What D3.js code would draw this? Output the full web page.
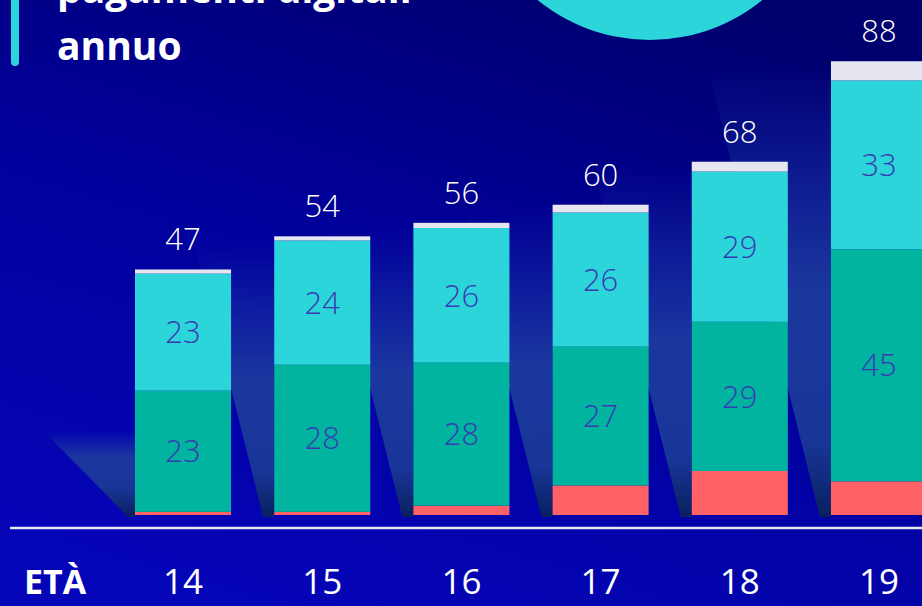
<!DOCTYPE html>
<html>
<head>
<meta charset="utf-8">
<script src="https://cdn.jsdelivr.net/npm/d3@7"></script>
<style>
    body { margin: 0; padding: 0; background: #00008a; overflow: hidden; }
    text { font-family: "Open Sans", "Noto Sans", sans-serif; }
    .num { font-weight: 300; }
</style>
</head>
<body>
<div id="chart"></div>
<script>

// eta' (x categories)
const ages = ["14", "15", "16", "17", "18", "19"];

// segment values per age, bottom to top
const red_values = [0.6, 0.6, 1.8, 5.7, 8.5, 6.5];
const teal_values = [23.4, 28.4, 27.6, 26.8, 28.8, 44.8];
const cyan_values = [22.6, 24.0, 26.0, 25.9, 29.0, 32.6];
const white_values = [0.8, 0.8, 1.0, 1.5, 1.9, 3.7];

const title_lines = ["pagamenti digitali", "annuo"];
const axis_title = "ETÀ";

document.addEventListener("DOMContentLoaded", function () {
    drawChart();
});

function addBeamGradient(defs, id, fullAt, fullTo) {
    let g = defs.append("linearGradient")
        .attr("id", id)
        .attr("x1", 0).attr("y1", 0)
        .attr("x2", 0).attr("y2", 1);
    g.append("stop").attr("offset", 0).attr("stop-color", "#1c3a9e").attr("stop-opacity", 0);
    g.append("stop").attr("offset", fullAt).attr("stop-color", "#1c3a9e").attr("stop-opacity", 0.95);
    g.append("stop").attr("offset", fullTo).attr("stop-color", "#1a3898").attr("stop-opacity", 0.95);
    g.append("stop").attr("offset", 1).attr("stop-color", "#08205e").attr("stop-opacity", 1);
}

function drawChart() {

    const width = 922,
        height = 606,
        baseline = 515;

    const keys = ["red", "teal", "cyan", "white"];
    const colors = {
        red: "#ff6166",
        teal: "#00b4a0",
        cyan: "#2bd5d9",
        white: "#e6e6f0"
    };

    const table = ages.map(function (a, i) {
        return {
            age: a,
            red: red_values[i],
            teal: teal_values[i],
            cyan: cyan_values[i],
            white: white_values[i]
        };
    });

    let svg = d3
        .select("#chart")
        .append("svg")
        .attr("width", width)
        .attr("height", height);

    let defs = svg.append("defs");

    let bg = defs.append("linearGradient")
        .attr("id", "bg")
        .attr("x1", "0.75").attr("y1", "0")
        .attr("x2", "0.3").attr("y2", "1");
    bg.append("stop").attr("offset", "0").attr("stop-color", "#00006e");
    bg.append("stop").attr("offset", "0.45").attr("stop-color", "#00009a");
    bg.append("stop").attr("offset", "1").attr("stop-color", "#0505b8");

    addBeamGradient(defs, "beam", 0.5, 0.83);
    addBeamGradient(defs, "beam0", 0.3, 0.65);

    svg.append("rect")
        .attr("width", width)
        .attr("height", height)
        .attr("fill", "url(#bg)");

    // decorative circle and title
    svg.append("circle")
        .attr("cx", 650)
        .attr("cy", -138)
        .attr("r", 178)
        .attr("fill", "#2bd5d9");

    svg.append("rect")
        .attr("x", 11)
        .attr("y", -10)
        .attr("width", 8)
        .attr("height", 76)
        .attr("rx", 4)
        .attr("fill", "#2bd5d9");

    svg.selectAll(".title")
        .data(title_lines)
        .enter()
        .append("text")
        .attr("class", "title")
        .attr("x", 57)
        .attr("y", function (d, i) { return 3 + i * 57; })
        .attr("fill", "#ffffff")
        .style("font-size", "39px")
        .style("font-weight", "700")
        .text(function (d) { return d; });

    let xScale = d3
        .scaleBand()
        .domain(ages)
        .range([135, 927])
        .paddingInner(0.31)
        .paddingOuter(0);

    let yScale = d3
        .scaleLinear()
        .domain([0, 88])
        .range([baseline, baseline - 88 * 5.18]);

    const stacked = d3.stack().keys(keys)(table);
    const totals = table.map(function (d) {
        return keys.reduce(function (s, k) { return s + d[k]; }, 0);
    });

    // light beams behind each bar
    svg.selectAll(".beam")
        .data(table)
        .enter()
        .append("polygon")
        .attr("class", "beam")
        .attr("fill", function (d, i) { return i == 0 ? "url(#beam0)" : "url(#beam)"; })
        .attr("points", function (d, i) {
            let x0 = xScale(d.age);
            let bottom = baseline + 2;
            let top, slope, off;
            if (i == 0) {
                top = baseline - 84;
                slope = 0.98;
                off = 7;
            } else {
                top = yScale(totals[i]) + 6;
                slope = 0.25;
                off = 11;
            }
            let xl = x0 - off - slope * (bottom - top);
            return [[x0, top], [x0, bottom], [x0 - off, bottom], [xl, top]]
                .map(function (p) { return p.join(","); }).join(" ");
        });

    // stacked bars
    svg.selectAll(".layer")
        .data(stacked)
        .enter()
        .append("g")
        .attr("class", "layer")
        .attr("fill", function (d) { return colors[d.key]; })
        .selectAll("rect")
        .data(function (d) { return d; })
        .enter()
        .append("rect")
        .attr("x", function (d) { return xScale(d.data.age); })
        .attr("y", function (d) { return yScale(d[1]); })
        .attr("width", xScale.bandwidth())
        .attr("height", function (d) { return yScale(d[0]) - yScale(d[1]); });

    // values inside teal and cyan segments
    svg.selectAll(".seg-label")
        .data(stacked.filter(function (s) { return s.key == "teal" || s.key == "cyan"; }))
        .enter()
        .append("g")
        .selectAll("text")
        .data(function (d) { return d; })
        .enter()
        .append("text")
        .attr("class", "num")
        .attr("x", function (d) { return xScale(d.data.age) + xScale.bandwidth() / 2; })
        .attr("y", function (d) { return (yScale(d[0]) + yScale(d[1])) / 2; })
        .attr("dy", "0.36em")
        .attr("text-anchor", "middle")
        .attr("fill", "#3a3ab4")
        .style("font-size", "31px")
        .text(function (d) { return Math.round(d[1] - d[0]); });

    // totals above bars
    svg.selectAll(".total")
        .data(table)
        .enter()
        .append("text")
        .attr("class", "total num")
        .attr("x", function (d) { return xScale(d.age) + xScale.bandwidth() / 2; })
        .attr("y", function (d, i) { return yScale(totals[i]) - 19; })
        .attr("text-anchor", "middle")
        .attr("fill", "#ffffff")
        .style("font-size", "31px")
        .text(function (d, i) { return Math.round(totals[i]); });

    // baseline
    svg.append("line")
        .attr("x1", 10)
        .attr("x2", width)
        .attr("y1", 528)
        .attr("y2", 528)
        .attr("stroke", "#e8e8f4")
        .attr("stroke-width", 2.5);

    // x axis labels
    let xAxis = svg.append("g")
        .attr("transform", "translate(0,594)")
        .call(d3.axisBottom(xScale).tickSize(0).tickPadding(0));
    xAxis.select(".domain").remove();
    xAxis.selectAll("text")
        .attr("y", 0)
        .attr("dy", 0)
        .attr("fill", "#ffffff")
        .style("font-family", "'Open Sans', 'Noto Sans', sans-serif")
        .style("font-size", "35px");

    svg.append("text")
        .attr("x", 24)
        .attr("y", 594)
        .attr("fill", "#ffffff")
        .style("font-size", "34px")
        .style("font-weight", "700")
        .text(axis_title);
}
</script>
</body>
</html>
